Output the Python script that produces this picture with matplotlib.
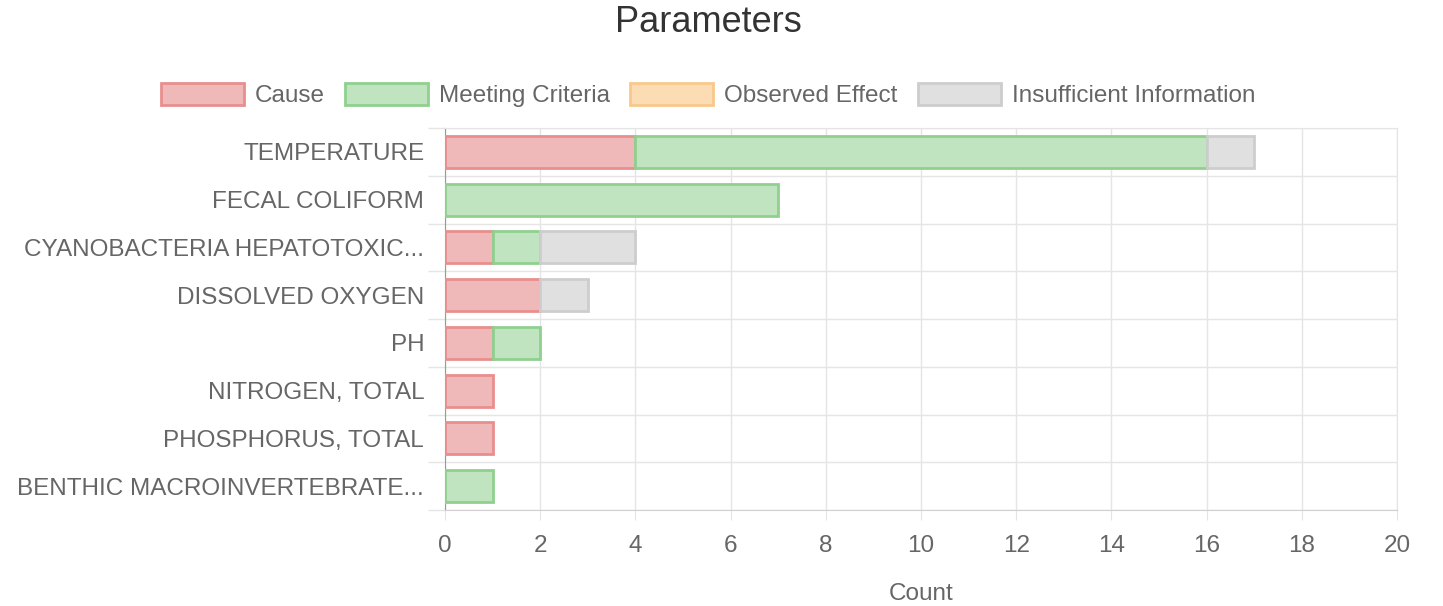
import matplotlib.pyplot as plt
import numpy as np
from matplotlib.patches import Patch

plt.rcParams['font.family'] = ['Liberation Sans', 'DejaVu Sans']

categories = ["TEMPERATURE", "FECAL COLIFORM", "CYANOBACTERIA HEPATOTOXIC...",
              "DISSOLVED OXYGEN", "PH", "NITROGEN, TOTAL", "PHOSPHORUS, TOTAL",
              "BENTHIC MACROINVERTEBRATE..."]
series_names = ["Cause", "Meeting Criteria", "Observed Effect", "Insufficient Information"]
cause = [4, 0, 1, 2, 1, 1, 1, 0]
meeting = [12, 7, 1, 0, 1, 0, 0, 1]
observed = [0, 0, 0, 0, 0, 0, 0, 0]
insufficient = [1, 0, 2, 1, 0, 0, 0, 0]
x_ticks = list(range(0, 21, 2))

fills = ["#f0b9b9", "#c0e4c0", "#fbdcb3", "#e0e0e0"]
edges = ["#e88e8e", "#8fd08f", "#f7c98c", "#cdcdcd"]
text_col = "#666666"
fs = 17.5

fig = plt.figure(figsize=(14.43, 6.06), dpi=100)
ax = fig.add_axes([445 / 1443, 1 - 510 / 606, 952 / 1443, 382 / 606])

y = np.arange(len(categories))
left = np.zeros(len(categories))
for vals, name, fc, ec in zip([cause, meeting, observed, insufficient], series_names, fills, edges):
    vals = np.array(vals, dtype=float)
    m = vals > 0  # skip empty segments so no stray edges are drawn
    ax.barh(y[m], vals[m], left=left[m], height=0.67, color=fc, edgecolor=ec, linewidth=2, zorder=3)
    left += vals

ax.set_xlim(0, 20)
ax.set_ylim(len(categories) - 0.5, -0.5)
ax.set_xticks(x_ticks)
ax.set_yticks(y)
ax.set_yticklabels(categories)
ax.set_yticks(np.arange(len(categories) + 1) - 0.5, minor=True)
ax.tick_params(axis='y', which='major', length=0, pad=15, labelsize=fs, labelcolor=text_col)
ax.tick_params(axis='y', which='minor', length=12, color="#e5e5e5", width=1)
ax.tick_params(axis='x', length=7, color="#e5e5e5", pad=11, labelsize=fs, labelcolor=text_col)
ax.grid(True, axis='x', color="#e5e5e5", linewidth=1, zorder=0)
ax.grid(True, axis='y', which='minor', color="#e5e5e5", linewidth=1, zorder=0)
for s in ['top', 'right']:
    ax.spines[s].set_color("#e5e5e5")
ax.spines['bottom'].set_color("#d0d0d0")
ax.spines['left'].set_color("#999999")
ax.set_xlabel("Count", fontsize=fs, color=text_col, labelpad=19)

handles = [Patch(facecolor=fc, edgecolor=ec, linewidth=2) for fc, ec in zip(fills, edges)]
fig.legend(handles, series_names, loc='center', bbox_to_anchor=(708 / 1443, 1 - 95 / 606),
           ncol=4, frameon=False, fontsize=fs, labelcolor=text_col,
           handlelength=3.4, handleheight=1.05, handletextpad=0.45, columnspacing=0.85)

fig.text(708 / 1443, 1 - 22 / 606, "Parameters", ha='center', va='center', fontsize=26, color="#333333")

fig.savefig("out.png", dpi=100)
